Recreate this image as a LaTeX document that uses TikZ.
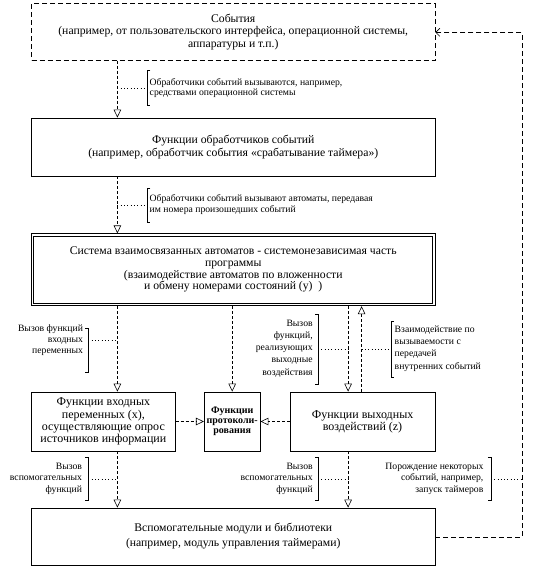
\documentclass[tikz,border=0pt]{standalone}
\usepackage{fontspec}
\setmainfont{Liberation Serif}
\usetikzlibrary{arrows.meta,calc}
\tikzset{
  box/.style={draw, line width=0.75pt, inner sep=0pt, align=center},
  evbox/.style={box, dash pattern=on 5pt off 3pt},
  mainf/.style={font=\fontsize{11.7}{12.5}\selectfont},
  bigf/.style={font=\fontsize{12}{12.3}\selectfont},
  logf/.style={font=\fontsize{10}{10}\selectfont\bfseries},
  arr/.style={line width=0.6pt, dash pattern=on 3pt off 2pt, -{Triangle[open,length=8pt,width=7.5pt,line width=0.6pt]}},
  ret/.style={line width=0.75pt, dash pattern=on 5pt off 3pt, -{Straight Barb[length=4pt,width=8pt,line width=0.6pt]}},
  dotc/.style={line width=0.6pt, dash pattern=on 0.8pt off 2.5pt},
  brk/.style={line width=0.6pt},
  annL/.style={inner sep=0pt, align=left, anchor=west},
  annR/.style={inner sep=0pt, align=right, anchor=east},
  af/.style={font=\fontsize{9.7}{#1}\selectfont},
}
\begin{document}
\begin{tikzpicture}[x=1pt,y=-1pt]
\useasboundingbox (0,0) rectangle (542,568);
% columns
\coordinate (xA) at (117.4,0);
\coordinate (xL) at (232.2,0);
\coordinate (xB) at (348.1,0);
\coordinate (xC) at (361.6,0);
\coordinate (r1) at (522,537);
\coordinate (r2) at (522,32.3);
% boxes
\node[evbox, mainf, minimum width=403.5pt, minimum height=56.5pt] (ev) at (233.25,32)
  {События\\(например, от пользовательского интерфейса, операционной системы,\\аппаратуры и т.п.)};
\node[box, mainf, minimum width=403.5pt, minimum height=58pt] (hd) at (233.25,147)
  {Функции обработчиков событий\\(например, обработчик события «срабатывание таймера»)};
\node[box, minimum width=403.5pt, minimum height=72pt, font=\fontsize{11.7}{11.7}\selectfont] (sys) at (233.25,269.8)
  {Система взаимосвязанных автоматов - системонезависимая часть\\программы\\(взаимодействие автоматов по вложенности\\и обмену номерами состояний (y)~~)};
\draw[line width=0.75pt] ([shift={(2.7pt,-2.7pt)}]sys.north west) rectangle ([shift={(-2.7pt,2.7pt)}]sys.south east);
\node[box, bigf, minimum width=143.8pt, minimum height=59pt] (inp) at (103.4,421.5)
  {Функции входных\\переменных (x),\\осуществляющие опрос\\источников информации};
\node[box, logf, minimum width=55.8pt, minimum height=59pt] (log) at (232.2,421.5)
  {Функции\\протоколи-\\рования};
\node[box, bigf, minimum width=144.9pt, minimum height=59pt] (out) at (362.55,421.5)
  {Функции выходных\\воздействий (z)};
\node[box, minimum width=403.5pt, minimum height=57pt, font=\fontsize{11.7}{15}\selectfont] (lib) at (233.25,536.5)
  {Вспомогательные модули и библиотеки\\(например, модуль управления таймерами)};
% arrows
\draw[arr] (ev.south -| xA) -- (hd.north -| xA);
\draw[arr] (hd.south -| xA) -- (sys.north -| xA);
\draw[arr] (sys.south -| xA) -- (inp.north -| xA);
\draw[arr] (sys.south -| xL) -- (log.north);
\draw[arr] (sys.south -| xB) -- (out.north -| xB);
\draw[arr] (out.north -| xC) -- (sys.south -| xC);
\draw[arr] (inp.east) -- (log.west);
\draw[arr] (out.west) -- (log.east);
\draw[arr] (inp.south -| xA) -- (lib.north -| xA);
\draw[arr] (out.south -| xB) -- (lib.north -| xB);
\draw[ret] (lib.east |- r1) -- (r1) -- (r2) -- (ev.east |- r2);
% annotation 1
\node[annL, af=10] (a1) at (149.5,88) {Обработчики событий вызываются, например,\\средствами операционной системы};
\draw[brk] (150.4,70) -- (147.4,70) -- (147.4,105) -- (150.4,105);
\coordinate (a1b) at (147.4,88);
\draw[dotc] (a1b -| xA) -- (a1b);
% annotation 2
\node[annL, af=11] (a2) at (149.5,205) {Обработчики событий вызывают автоматы, передавая\\им номера произошедших событий};
\draw[brk] (150.4,188) -- (147.4,188) -- (147.4,222) -- (150.4,222);
\coordinate (a2b) at (147.4,205);
\draw[dotc] (a2b -| xA) -- (a2b);
% mid 1
\node[annR, af=11] (m1) at (83.2,340) {Вызов функций\\входных\\переменных};
\draw[brk] (85.4,328) -- (88.4,328) -- (88.4,372) -- (85.4,372);
\coordinate (m1b) at (88.4,340);
\draw[dotc] (m1b) -- (m1b -| xA);
% mid 2
\node[annR, af=12.2] (m2) at (312.9,348.5) {Вызов\\функций,\\реализующих\\выходные\\воздействия};
\draw[brk] (315.1,314) -- (318.1,314) -- (318.1,384) -- (315.1,384);
\coordinate (m2b) at (318.1,349);
\draw[dotc] (m2b) -- (m2b -| xB);
% mid 3
\node[annL, af=12.3] (m3) at (394.5,348.5) {Взаимодействие по\\вызываемости с\\передачей\\внутренних событий};
\draw[brk] (394.2,321) -- (391.2,321) -- (391.2,377) -- (394.2,377);
\coordinate (m3b) at (391.2,349);
\draw[dotc] (m3b -| xC) -- (m3b);
% bottom annotations
\node[annR, af=11.5] (b1) at (82.2,478.7) {Вызов\\вспомогательных\\функций};
\draw[brk] (85.4,457) -- (88.4,457) -- (88.4,500) -- (85.4,500);
\coordinate (b1b) at (88.4,479);
\draw[dotc] (b1b) -- (b1b -| xA);
\node[annR, af=11.5] (b2) at (312.9,478.7) {Вызов\\вспомогательных\\функций};
\draw[brk] (315.1,457) -- (318.1,457) -- (318.1,500) -- (315.1,500);
\coordinate (b2b) at (318.1,479);
\draw[dotc] (b2b) -- (b2b -| xB);
\node[annR, af=11.5] (b3) at (483.6,478.7) {Порождение некоторых\\событий, например,\\запуск таймеров};
\draw[brk] (487.9,457) -- (490.9,457) -- (490.9,500) -- (487.9,500);
\coordinate (b3b) at (490.9,479);
\draw[dotc] (b3b) -- (b3b -| r1);
\end{tikzpicture}
\end{document}
